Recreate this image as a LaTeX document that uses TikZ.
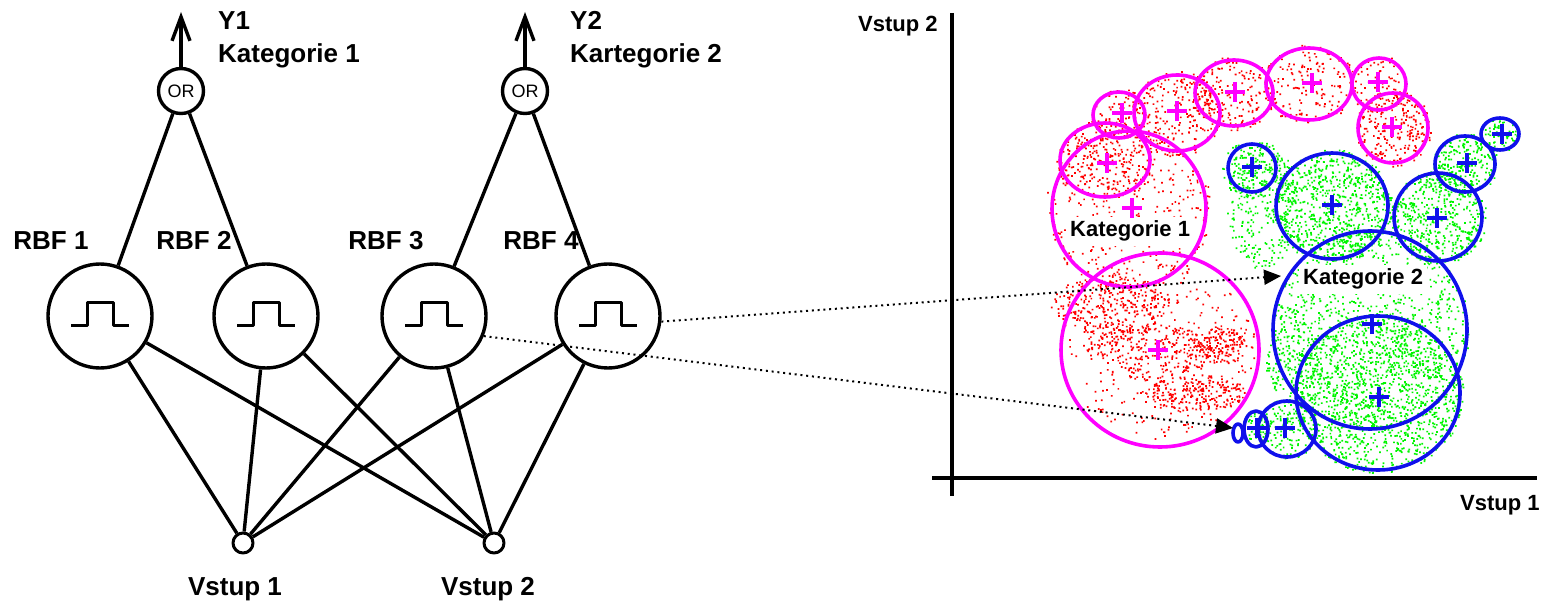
\documentclass[tikz,border=0pt]{standalone}
\usepackage{fontspec}
\setmainfont{Liberation Sans}
\usetikzlibrary{arrows.meta}

\definecolor{magline}{RGB}{255,0,255}
\definecolor{blueline}{RGB}{16,16,235}
\definecolor{reddot}{RGB}{255,0,0}
\definecolor{greendot}{RGB}{0,245,0}

% random cloud of small square dots: colour, cx, cy, rx, ry, count
\newcommand\dotcloud[6]{%
  \fill[#1] \foreach \k [evaluate=\k as \aa using 360*rnd,
                         evaluate=\k as \dd using sqrt(rnd)] in {1,...,#6}
    {({#2+#4*\dd*cos(\aa)},{#3+#5*\dd*sin(\aa)}) rectangle ++(1.7,1.7)};%
}

\tikzset{
  rbfnode/.style={circle, draw, line width=3.4pt, minimum size=104pt, inner sep=0pt},
  ornode/.style={circle, draw, line width=3.4pt, minimum size=45pt, inner sep=0pt,
                 font=\fontsize{18}{18}\selectfont},
  innode/.style={circle, draw, line width=3pt, minimum size=20pt, inner sep=0pt},
  biglabel/.style={font=\fontsize{26}{30}\selectfont\bfseries, inner sep=0pt},
  plotlabel/.style={font=\fontsize{22}{26}\selectfont\bfseries, inner sep=0pt},
  boxlabel/.style={plotlabel, fill=white, inner sep=4pt},
  link/.style={line width=3.4pt},
  outarrow/.style={line width=3.4pt, -{Straight Barb[length=24pt,width=18pt]}},
  pointer/.style={line width=2pt, dash pattern=on 2pt off 3.8pt,
                  -{Triangle[length=17pt,width=15pt]}},
  pulseline/.style={line width=3pt},
  axisline/.style={line width=4pt},
  magcirc/.style={draw=magline, line width=3.6pt},
  bluecirc/.style={draw=blueline, line width=3.6pt},
  plusmark/.pic={\draw[line width=3.4pt] (-10,0) -- (10,0) (0,-10) -- (0,10);}
}

\begin{document}
\begin{tikzpicture}[x=1pt, y=-1pt, line join=round]
\useasboundingbox (0,0) rectangle (1544,601);

% ---------------- RBF network ----------------
\node[ornode] (or1) at (181,91) {OR};
\node[ornode] (or2) at (525,91) {OR};
\coordinate (y1) at (181,12);
\coordinate (y2) at (525,12);
\draw[outarrow] (or1.north) -- (y1);
\draw[outarrow] (or2.north) -- (y2);

\node[biglabel, anchor=base west] (y1lab) at (218,30) {Y1};
\node[biglabel, anchor=base west] (k1lab) at (218,63) {Kategorie 1};
\node[biglabel, anchor=base west] (y2lab) at (570,30) {Y2};
\node[biglabel, anchor=base west] (k2lab) at (570,63) {Kartegorie 2};

\node[rbfnode] (rbf1) at (100,316) {};
\node[rbfnode] (rbf2) at (266,316) {};
\node[rbfnode] (rbf3) at (434,316) {};
\node[rbfnode] (rbf4) at (608,316) {};

\node[biglabel, anchor=base] (r1lab) at (51,250) {RBF 1};
\node[biglabel, anchor=base] (r2lab) at (194,250) {RBF 2};
\node[biglabel, anchor=base] (r3lab) at (386,250) {RBF 3};
\node[biglabel, anchor=base] (r4lab) at (541,250) {RBF 4};

% rectangular pulse inside each RBF unit
\foreach \n in {rbf1,rbf2,rbf3,rbf4}
  \draw[pulseline, shift={(\n)}] (-29,10) -| (-13,-13) -| (13,10) -- (29,10);

\node[innode] (in1) at (243,543) {};
\node[innode] (in2) at (494,543) {};
\node[biglabel, anchor=base] (in1lab) at (235,595) {Vstup 1};
\node[biglabel, anchor=base] (in2lab) at (488,595) {Vstup 2};

\draw[link] (or1) -- (rbf1);
\draw[link] (or1) -- (rbf2);
\draw[link] (or2) -- (rbf3);
\draw[link] (or2) -- (rbf4);
\foreach \r in {rbf1,rbf2,rbf3,rbf4}
  \foreach \i in {in1,in2}
    \draw[link] (\r) -- (\i);

% ---------------- input space ----------------
\pgfmathsetseed{4711}
% category 1 samples
\dotcloud{reddot}{1119}{115}{30}{27}{80}
\dotcloud{reddot}{1177}{113}{47}{42}{240}
\dotcloud{reddot}{1234}{93}{43}{37}{190}
\dotcloud{reddot}{1309}{84}{47}{40}{170}
\dotcloud{reddot}{1379}{84}{30}{29}{80}
\dotcloud{reddot}{1393}{128}{38}{38}{240}
\dotcloud{reddot}{1105}{160}{49}{41}{240}
\dotcloud{reddot}{1129}{209}{84}{82}{360}
\dotcloud{reddot}{1110}{305}{60}{30}{330}
\dotcloud{reddot}{1150}{352}{64}{28}{300}
\dotcloud{reddot}{1222}{345}{24}{20}{150}
\dotcloud{reddot}{1195}{392}{50}{18}{230}
\dotcloud{reddot}{1160}{350}{95}{90}{240}
% category 2 samples
\dotcloud{greendot}{1252}{168}{30}{30}{140}
\dotcloud{greendot}{1332}{206}{60}{57}{780}
\dotcloud{greendot}{1438}{217}{48}{48}{500}
\dotcloud{greendot}{1465}{164}{33}{31}{210}
\dotcloud{greendot}{1500}{134}{19}{17}{55}
\dotcloud{greendot}{1262}{205}{36}{64}{280}
\dotcloud{greendot}{1370}{330}{99}{101}{1000}
\dotcloud{greendot}{1378}{393}{85}{80}{1200}
\dotcloud{greendot}{1292}{370}{26}{62}{220}
\dotcloud{greendot}{1287}{429}{31}{30}{140}
\dotcloud{greendot}{1256}{429}{14}{20}{45}

% category labels on white
\node[boxlabel, anchor=base west] (cat1) at (1066,237) {Kategorie 1};
\node[boxlabel, anchor=base west] (cat2) at (1299,285) {Kategorie 2};

% receptive fields of category 1
\draw[magcirc] (1119,115) ellipse [x radius=26, y radius=23];
\draw[magcirc] (1177,113) ellipse [x radius=43, y radius=38];
\draw[magcirc] (1234,93) ellipse [x radius=39, y radius=33];
\draw[magcirc] (1309,84) ellipse [x radius=43, y radius=36];
\draw[magcirc] (1379,84) ellipse [x radius=27, y radius=26];
\draw[magcirc] (1393,128) ellipse [x radius=35, y radius=35];
\draw[magcirc] (1105,160) ellipse [x radius=45, y radius=37];
\draw[magcirc] (1129,209) ellipse [x radius=77, y radius=78];
\draw[magcirc] (1160,350) ellipse [x radius=99, y radius=97];
\foreach \p in {(1122,113),(1177,111),(1235,92),(1312,83),(1378,82),
                (1392,127),(1107,163),(1132,208),(1158,350)}
  \pic[color=magline] at \p {plusmark};

% receptive fields of category 2
\draw[bluecirc] (1252,168) ellipse [x radius=24, y radius=24];
\draw[bluecirc] (1332,206) ellipse [x radius=56, y radius=53];
\draw[bluecirc] (1438,217) ellipse [x radius=44, y radius=44];
\draw[bluecirc] (1465,164) ellipse [x radius=30, y radius=28];
\draw[bluecirc] (1500,134) ellipse [x radius=19, y radius=16];
\draw[bluecirc] (1370,330) ellipse [x radius=97, y radius=99];
\draw[bluecirc] (1378,393) ellipse [x radius=82, y radius=77];
\draw[bluecirc] (1238,433) ellipse [x radius=5, y radius=9];
\draw[bluecirc] (1256,429) ellipse [x radius=12, y radius=18];
\draw[bluecirc] (1287,429) ellipse [x radius=29, y radius=28];
\foreach \p in {(1252,167),(1332,205),(1437,218),(1467,163),(1502,134),
                (1372,324),(1379,397),(1257,428),(1285,428)}
  \pic[color=blueline] at \p {plusmark};

% axes
\draw[axisline] (932,478) -- (1537,478);
\draw[axisline] (952,13) -- (952,496);
\node[plotlabel, anchor=base west] (ax2lab) at (858,32) {Vstup 2};
\node[plotlabel, anchor=base west] (ax1lab) at (1460,510) {Vstup 1};

% RBF units mapped to their receptive fields
\coordinate (tipA) at (1281,276);
\coordinate (tipB) at (1233,428);
\draw[pointer] (rbf4.-6) -- (tipA);
\draw[pointer] (rbf3.-22) -- (tipB);
\end{tikzpicture}
\end{document}
